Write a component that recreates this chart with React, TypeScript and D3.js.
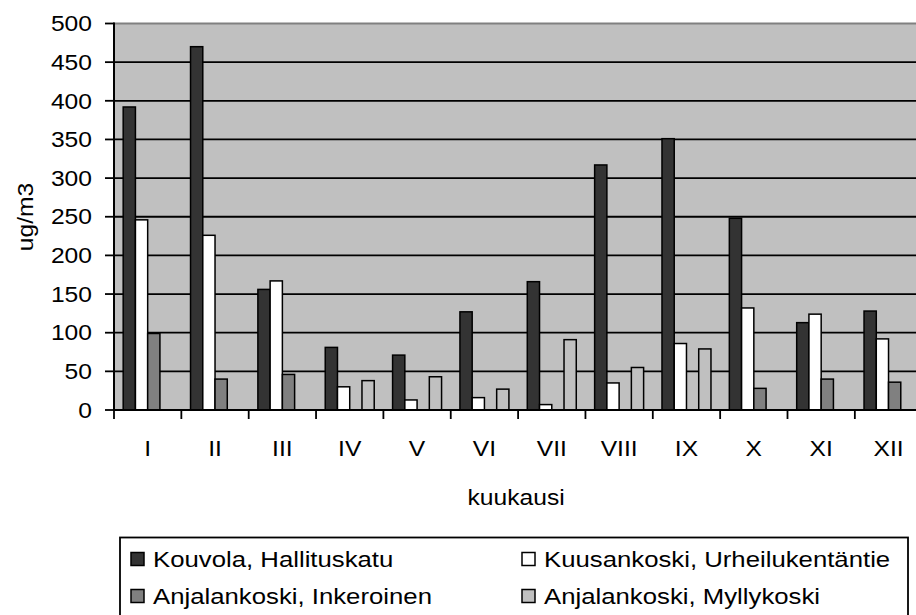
import React from "react";
import * as d3 from "d3";

const months = ["I", "II", "III", "IV", "V", "VI", "VII", "VIII", "IX", "X", "XI", "XII"];
const seriesNames = [
  "Kouvola, Hallituskatu",
  "Kuusankoski, Urheilukentäntie",
  "Anjalankoski, Inkeroinen",
  "Anjalankoski, Myllykoski",
];
const kouvola = [392, 470, 156, 81, 71, 127, 166, 317, 351, 248, 113, 128];
const kuusankoski = [246, 226, 167, 30, 13, 16, 7, 35, 86, 132, 124, 92];
const inkeroinen: (number | null)[] = [99, 40, 46, null, null, null, null, null, null, 28, 40, 36];
const myllykoski: (number | null)[] = [null, null, null, 38, 43, 27, 91, 55, 79, null, null, null];
const yTicks = [0, 50, 100, 150, 200, 250, 300, 350, 400, 450, 500];
const colors = ["#333333", "#ffffff", "#808080", "#c0c0c0"];

const W = 916;
const H = 615;
const left = 114;
const top = 23.5;
const bottom = 410;
const catW = 67.35;
const right = left + catW * months.length;
const font = "'Liberation Sans', Arial, sans-serif";
const FS = 22;

function T(props: {
  x: number;
  y: number;
  anchor?: "start" | "middle" | "end";
  rotate?: number;
  dy?: string;
  sx?: number;
  children: React.ReactNode;
}) {
  const { x, y, anchor = "start", rotate = 0, dy = "0.35em", sx = 1.12, children } = props;
  return (
    <text
      transform={`translate(${x},${y}) rotate(${rotate}) scale(${sx},1)`}
      textAnchor={anchor}
      fontSize={FS}
      dy={dy}
      fill="#000"
    >
      {children}
    </text>
  );
}

export default function App() {
  const allSeries = [kouvola, kuusankoski, inkeroinen, myllykoski];
  const x = d3.scaleBand<string>().domain(months).range([left, right]).paddingInner(0).paddingOuter(0);
  const bw = catW / 5.5;
  const xs = d3
    .scaleBand<number>()
    .domain([0, 1, 2, 3])
    .range([bw * 0.75, catW - bw * 0.75]);
  const y = d3.scaleLinear().domain([0, 500]).range([bottom, top]);

  return (
    <div style={{ position: "absolute", left: 0, top: 0 }}>
      <svg width={W} height={H} style={{ display: "block", fontFamily: font }}>
        <rect x={0} y={0} width={W} height={H} fill="#ffffff" />
        <rect x={left} y={top} width={right - left} height={bottom - top} fill="#c0c0c0" />
        <line x1={left} x2={right} y1={top} y2={top} stroke="#808080" strokeWidth={2} />
        {yTicks.slice(1, -1).map((t) => (
          <line key={t} x1={left} x2={right} y1={y(t)} y2={y(t)} stroke="#000" strokeWidth={1.8} />
        ))}
        {allSeries.map((s, si) =>
          s.map((v, i) =>
            v == null ? null : (
              <rect
                key={si + "-" + i}
                x={(x(months[i]) as number) + (xs(si) as number)}
                y={y(v)}
                width={xs.bandwidth()}
                height={bottom - y(v)}
                fill={colors[si]}
                stroke="#000"
                strokeWidth={1.5}
              />
            )
          )
        )}
        {/* y axis */}
        <line x1={left} x2={left} y1={top - 1} y2={bottom + 1} stroke="#000" strokeWidth={2} />
        {yTicks.map((t) => (
          <g key={t}>
            <line x1={left - 9} x2={left} y1={y(t)} y2={y(t)} stroke="#000" strokeWidth={1.8} />
            <T x={92} y={y(t)} anchor="end">
              {t}
            </T>
          </g>
        ))}
        {/* x axis */}
        <line x1={left} x2={right} y1={bottom} y2={bottom} stroke="#000" strokeWidth={2} />
        {months.map((m) => (
          <g key={m}>
            <line
              x1={x(m) as number}
              x2={x(m) as number}
              y1={bottom}
              y2={bottom + 9}
              stroke="#000"
              strokeWidth={1.8}
            />
            <T x={(x(m) as number) + x.bandwidth() / 2} y={448} anchor="middle">
              {m}
            </T>
          </g>
        ))}
        <T x={(left + right) / 2 - 2} y={497} anchor="middle">
          kuukausi
        </T>
        <T x={33} y={217} anchor="middle" rotate={-90} dy="0">
          ug/m3
        </T>
        {/* legend */}
        <rect x={120} y={537.5} width={788} height={100} fill="#fff" stroke="#000" strokeWidth={1.8} />
        {seriesNames.map((n, i) => {
          const col = i % 2;
          const row = Math.floor(i / 2);
          const lx = col === 0 ? 131 : 522;
          const ly = row === 0 ? 559 : 596;
          return (
            <g key={n}>
              <rect x={lx} y={ly - 6.5} width={13} height={13} fill={colors[i]} stroke="#000" strokeWidth={1.5} />
              <T x={lx + 22} y={ly} sx={1.17}>
                {n}
              </T>
            </g>
          );
        })}
      </svg>
    </div>
  );
}
